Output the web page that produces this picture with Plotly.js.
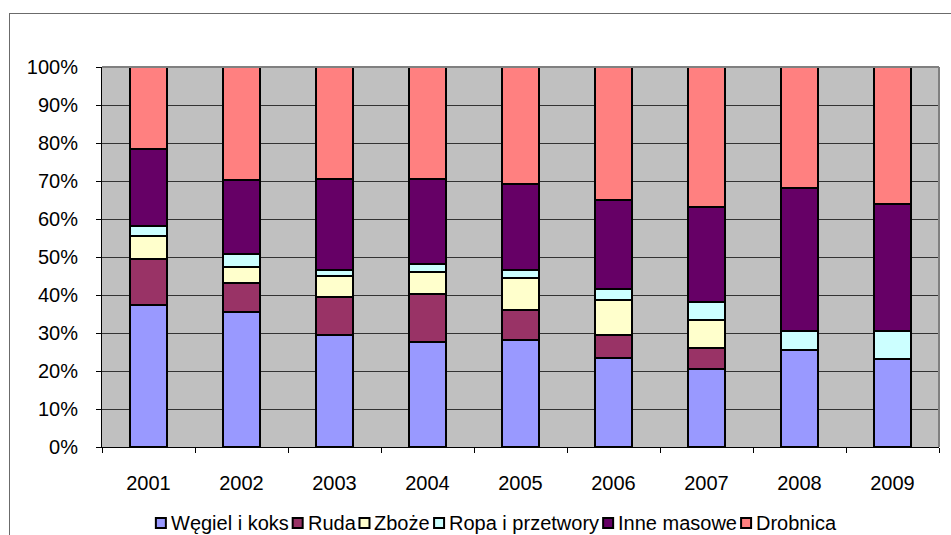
<!DOCTYPE html>
<html>
<head>
<meta charset="utf-8">
<script src="https://cdn.plot.ly/plotly-3.0.1.min.js"></script>
<style>
  html, body { margin: 0; padding: 0; background: #ffffff; }
  #wrap { position: relative; width: 951px; height: 535px; overflow: hidden; }
  #frame { position: absolute; left: 9px; top: 13px; width: 960px; height: 560px;
           border-left: 1px solid #6b6b6b; border-top: 1px solid #6b6b6b; }
  #chart { position: absolute; left: 0; top: 0; width: 951px; height: 535px; }
</style>
</head>
<body>
<div id="wrap">
  <div id="frame"></div>
  <div id="chart"></div>
</div>
<script>
// Structure of cargo handled, by year (share of total, %)
const years = ['2001', '2002', '2003', '2004', '2005', '2006', '2007', '2008', '2009'];
const seriesNames = ['Węgiel i koks', 'Ruda', 'Zboże', 'Ropa i przetwory', 'Inne masowe', 'Drobnica'];
const seriesColors = ['#9999FF', '#993366', '#FFFFCC', '#CCFFFF', '#660066', '#FF8080'];

const wegiel   = [37.3, 35.4, 29.4, 27.7, 28.2, 23.3, 20.4, 25.4, 23.2];
const ruda     = [12.2,  7.7, 10.1, 12.5,  7.8,  6.3,  5.6,  0.0,  0.0];
const zboze    = [ 6.0,  4.4,  5.4,  5.9,  8.6,  9.1,  7.3,  0.0,  0.0];
const ropa     = [ 2.7,  3.4,  1.7,  2.1,  2.1,  2.8,  4.8,  5.0,  7.3];
const inne     = [20.2, 19.4, 23.9, 22.2, 22.5, 23.6, 25.0, 37.8, 33.4];
const drobnica = [21.6, 29.7, 29.5, 29.6, 30.8, 34.9, 36.9, 31.8, 36.1];

const yTicks = [0, 10, 20, 30, 40, 50, 60, 70, 80, 90, 100];
const yTickText = ['0%', '10%', '20%', '30%', '40%', '50%', '60%', '70%', '80%', '90%', '100%'];

const seriesValues = [wegiel, ruda, zboze, ropa, inne, drobnica];
const FONT = 'Liberation Sans, Arial, sans-serif';

const traces = seriesValues.map((vals, i) => ({
  type: 'bar',
  name: seriesNames[i],
  x: years,
  y: vals,
  marker: { color: seriesColors[i], line: { color: '#000000', width: 2 } },
  hoverinfo: 'skip'
}));

// Plot-area geometry in pixels
const W = 951, H = 535;
const M = { l: 102, r: 12, t: 67, b: 88 };
const pw = W - M.l - M.r, ph = H - M.t - M.b;
const px2x = px => (px - M.l) / pw;
const px2y = py => (H - M.b - py) / ph;

// Legend laid out in one centred row: small bordered square, then label
const ctx = document.createElement('canvas').getContext('2d');
ctx.font = '20px "Liberation Sans", Arial, sans-serif';
const sq = 10, sqGap = 3, itemGap = 6;
const widths = seriesNames.map(n => ctx.measureText(n).width);
const total = widths.reduce((a, w) => a + sq + sqGap + w, 0) + itemGap * (seriesNames.length - 1);
let cx = 495 - total / 2;
const legendY = 523;
const shapes = [
  // grey border on top and right of the plot area
  { type: 'line', xref: 'paper', yref: 'paper', x0: 0, x1: 1, y0: 1, y1: 1,
    line: { color: '#808080', width: 2 }, layer: 'above' },
  { type: 'line', xref: 'paper', yref: 'paper', x0: 1, x1: 1, y0: 0, y1: 1,
    line: { color: '#808080', width: 2 }, layer: 'above' }
];
const annotations = [];
seriesNames.forEach((n, i) => {
  shapes.push({
    type: 'rect', xref: 'paper', yref: 'paper',
    x0: px2x(cx), x1: px2x(cx + sq), y0: px2y(legendY + sq / 2), y1: px2y(legendY - sq / 2),
    fillcolor: seriesColors[i], line: { color: '#000000', width: 2 }, layer: 'above'
  });
  annotations.push({
    xref: 'paper', yref: 'paper', x: px2x(cx + sq + sqGap), y: px2y(legendY),
    xanchor: 'left', yanchor: 'middle', showarrow: false, text: n,
    font: { family: FONT, size: 20, color: '#000000' }
  });
  cx += sq + sqGap + widths[i] + itemGap;
});

const layout = {
  width: W, height: H,
  margin: M,
  paper_bgcolor: 'rgba(0,0,0,0)',
  plot_bgcolor: '#C0C0C0',
  barmode: 'stack',
  bargap: 0.6,
  showlegend: false,
  font: { family: FONT, size: 20, color: '#000000' },
  xaxis: {
    type: 'category',
    tickson: 'boundaries',
    ticks: 'outside', ticklen: 5, tickcolor: '#000000', tickwidth: 1,
    showline: true, linecolor: '#000000', linewidth: 1,
    showgrid: false, zeroline: false,
    ticklabelstandoff: 18,
    tickfont: { family: FONT, size: 20, color: '#000000' }
  },
  yaxis: {
    range: [0, 100],
    tickvals: yTicks, ticktext: yTickText,
    ticks: 'outside', ticklen: 5, tickcolor: '#000000', tickwidth: 1,
    showline: true, linecolor: '#000000', linewidth: 1,
    showgrid: true, gridcolor: '#333333', gridwidth: 1,
    zeroline: false,
    ticklabelstandoff: 14,
    tickfont: { family: FONT, size: 20, color: '#000000' }
  },
  shapes: shapes,
  annotations: annotations
};

Plotly.newPlot('chart', traces, layout, { staticPlot: true, displayModeBar: false });
</script>
</body>
</html>
